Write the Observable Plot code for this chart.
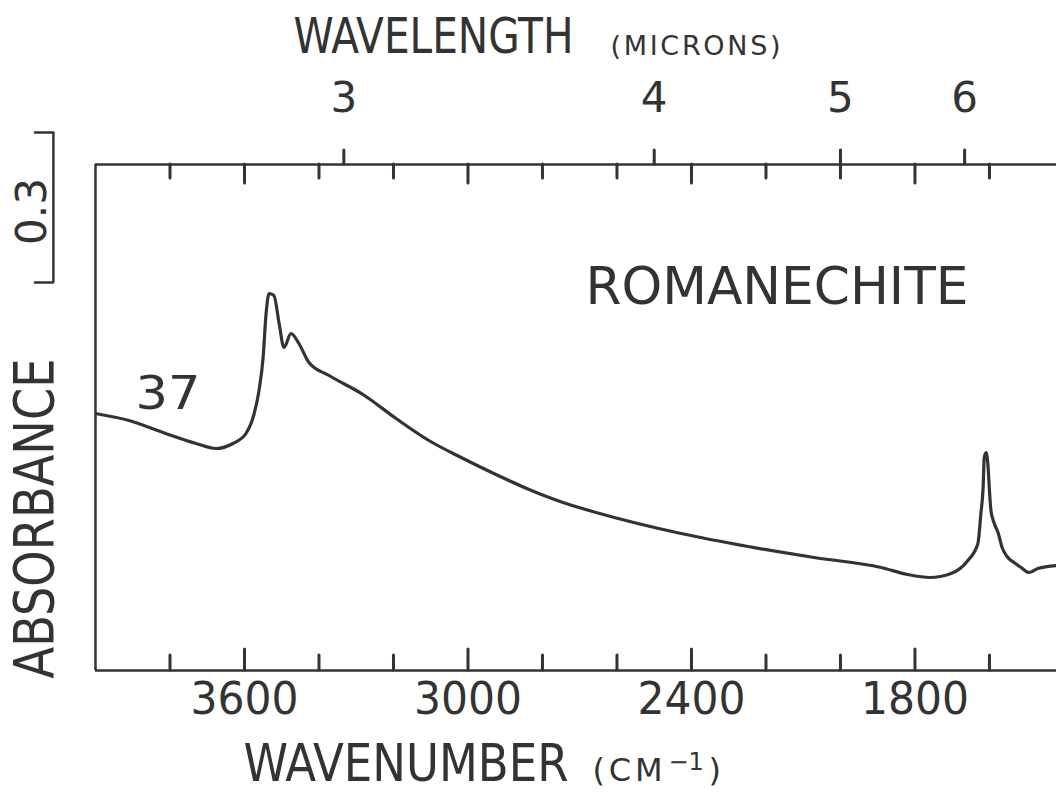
<!DOCTYPE html>
<html><head><meta charset="utf-8">
<script src="https://cdn.jsdelivr.net/npm/d3@7"></script>
<script src="https://cdn.jsdelivr.net/npm/@observablehq/plot@0.6"></script>
<style>
html,body{margin:0;padding:0;background:#fff;overflow:hidden}
</style></head><body><div id="chart"></div>
<script>
// Spectrum (wavenumber in cm-1, absorbance relative to frame bottom)
const wavenumber = [4000, 3910, 3819, 3730, 3677, 3631, 3596, 3574, 3561, 3550, 3542, 3534, 3521, 3507, 3494, 3475, 3454, 3427, 3373, 3282, 3193, 3105, 3013, 2925, 2836, 2745, 2656, 2428, 2248, 2071, 1891, 1820, 1760, 1703, 1658, 1631, 1623, 1617, 1614, 1609, 1604, 1600, 1596, 1588, 1577, 1566, 1553, 1534, 1515, 1494, 1470, 1420];
const absorbance = [0.514, 0.500, 0.476, 0.454, 0.444, 0.454, 0.474, 0.514, 0.560, 0.626, 0.714, 0.754, 0.750, 0.694, 0.646, 0.674, 0.654, 0.616, 0.590, 0.552, 0.504, 0.460, 0.424, 0.392, 0.362, 0.336, 0.316, 0.274, 0.248, 0.226, 0.206, 0.192, 0.186, 0.194, 0.220, 0.254, 0.314, 0.366, 0.426, 0.436, 0.410, 0.360, 0.320, 0.296, 0.276, 0.246, 0.228, 0.216, 0.206, 0.196, 0.204, 0.210];

const majorTicks = [3600, 3000, 2400, 1800];
const minorTicks = [3800, 3400, 3200, 2800, 2600, 2200, 2000, 1600];
const majorLabels = ["3600", "3000", "2400", "1800"];
const micronTicks = [3, 4, 5, 6];
const micronLabels = ["3", "4", "5", "6"];
const xDomain = [4000, 1420];
const yDomain = [0, 1.012];
const scaleBarValue = 0.3;
const scaleBarLabel = "0.3";
const sampleName = "ROMANECHITE";
const sampleNumber = "37";

const data = wavenumber.map((w, i) => ({w, a: absorbance[i]}));
const ink = "#333";
const font = "DejaVu Sans";
const narrow = "'Liberation Sans Narrow', 'DejaVu Sans Condensed', 'DejaVu Sans'";
const yTop = yDomain[1];
const barTop = 1.076, barBottom = barTop - scaleBarValue;
const barX = 4113, barTickX = 4161;

const txt = (s, o) => Plot.text([s], {text: d => d, frameAnchor: "top-left", fill: ink, fontFamily: font, textAnchor: "start", lineAnchor: "middle", ...o});

const plot = Plot.plot({
  width: 1056, height: 804,
  marginLeft: 95, marginRight: 0, marginTop: 164, marginBottom: 134,
  x: {domain: xDomain, axis: null},
  y: {domain: yDomain, axis: null},
  style: {background: "#fff", overflow: "visible"},
  marks: [
    // frame (left, top, bottom)
    Plot.ruleX([xDomain[0]], {y1: yDomain[0], y2: yDomain[1], stroke: ink, strokeWidth: 2.5}),
    Plot.ruleY([yDomain[0], yDomain[1]], {stroke: ink, strokeWidth: 2.5}),
    // bottom ticks (inward)
    Plot.ruleX(majorTicks, {y1: 0, y2: 0.042, stroke: ink, strokeWidth: 3, strokeLinecap: "round"}),
    Plot.ruleX(minorTicks, {y1: 0, y2: 0.03, stroke: ink, strokeWidth: 3, strokeLinecap: "round"}),
    // top ticks (inward)
    Plot.ruleX(majorTicks, {y1: yTop, y2: yTop - 0.038, stroke: ink, strokeWidth: 3, strokeLinecap: "round"}),
    Plot.ruleX(minorTicks, {y1: yTop, y2: yTop - 0.028, stroke: ink, strokeWidth: 3, strokeLinecap: "round"}),
    // top wavelength ticks (outward)
    Plot.ruleX(micronTicks, {x: d => 1e4 / d, y1: yTop, y2: yTop + 0.028, stroke: ink, strokeWidth: 3, strokeLinecap: "round"}),
    // scale bar
    Plot.ruleX([barX], {y1: barBottom, y2: barTop, stroke: ink, strokeWidth: 2.5}),
    Plot.ruleY([barBottom, barTop], {x1: barX, x2: barTickX, stroke: ink, strokeWidth: 2.5, strokeLinecap: "round"}),
    // spectrum
    Plot.line(data, {x: "w", y: "a", stroke: ink, strokeWidth: 3.2, curve: "monotone-x", clip: true}),
    // tick labels
    Plot.text(majorTicks, {x: d => d, text: (d, i) => majorLabels[i], frameAnchor: "bottom", dy: 29, lineAnchor: "middle", fontSize: 44, fontFamily: font, fill: ink}),
    Plot.text(micronTicks, {x: d => 1e4 / d, text: (d, i) => micronLabels[i], frameAnchor: "top", dy: -66, lineAnchor: "middle", fontSize: 42, fontFamily: font, fill: ink}),
    // titles
    txt("WAVELENGTH", {dx: 198, dy: -128, fontSize: 50, fontFamily: narrow}),
    txt("(MICRONS)", {dx: 515, dy: -118, fontSize: 27}),
    txt("WAVENUMBER", {dx: 148, dy: 600, fontSize: 52, fontFamily: narrow}),
    txt("(CM", {dx: 497, dy: 606, fontSize: 32}),
    txt("−1", {dx: 573, dy: 598, fontSize: 24}),
    txt(")", {dx: 613, dy: 606, fontSize: 32}),
    txt("ABSORBANCE", {dx: -60, dy: 354, fontSize: 56, fontFamily: narrow, rotate: -90, textAnchor: "middle"}),
    txt(scaleBarLabel, {dx: -63, dy: 47, fontSize: 42, rotate: -90, textAnchor: "middle"}),
    txt(sampleName, {dx: 490, dy: 123, fontSize: 52}),
    txt(sampleNumber, {dx: 40, dy: 230, fontSize: 46})
  ]
});

// fit label widths to the reference lettering
const lengths = {"WAVELENGTH": [280, "spacingAndGlyphs"], "(MICRONS)": [170, "spacing"], "WAVENUMBER": [325, "spacingAndGlyphs"], "(CM": [70, "spacing"], "ABSORBANCE": [320, "spacingAndGlyphs"], "0.3": [67, "spacingAndGlyphs"], "ROMANECHITE": [383, "spacingAndGlyphs"], "37": [65, "spacingAndGlyphs"], "3600": [108, "spacingAndGlyphs"], "3000": [108, "spacingAndGlyphs"], "2400": [108, "spacingAndGlyphs"], "1800": [108, "spacingAndGlyphs"]};
d3.select(plot).selectAll("text").each(function() {
  const L = lengths[this.textContent];
  if (L) { this.setAttribute("textLength", L[0]); this.setAttribute("lengthAdjust", L[1]); }
});
document.getElementById("chart").append(plot);
</script>
</body></html>
